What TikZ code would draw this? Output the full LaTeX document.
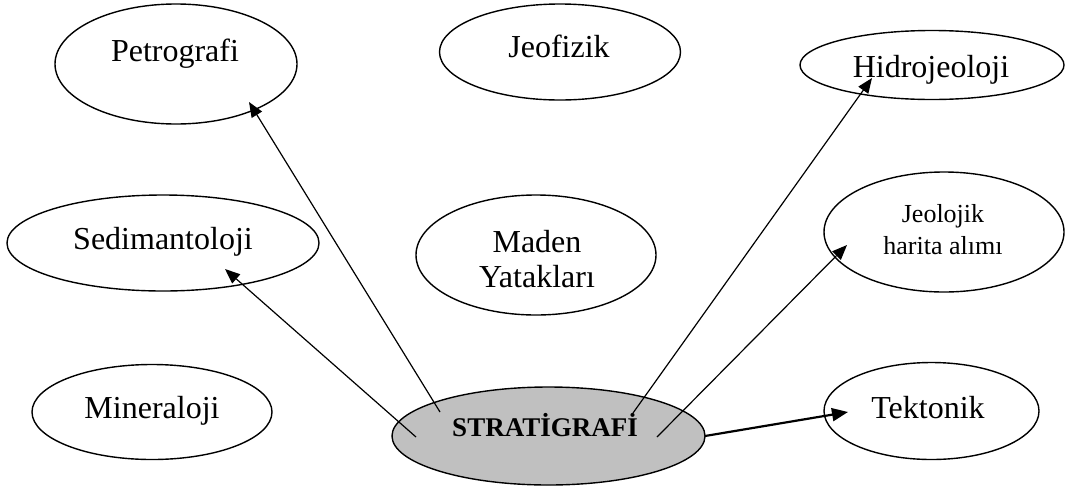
\documentclass[tikz,border=0pt]{standalone}
\usepackage{fontspec}
\setmainfont{Liberation Serif}
\usetikzlibrary{arrows.meta,shapes.geometric}
\definecolor{stratgray}{RGB}{192,192,192}
\begin{document}
\begin{tikzpicture}[x=1pt,y=-1pt,
  ell/.style={draw, ellipse, line width=1.4pt, inner sep=0pt},
  lbl/.style={inner sep=0pt, anchor=base, font=\fontsize{32}{35}\selectfont, align=center},
  smalllbl/.style={inner sep=0pt, anchor=base, font=\fontsize{26}{32}\selectfont, align=center},
  conn/.style={line width=1.2pt, -{Triangle[length=15pt,width=12pt]}},
  thickconn/.style={line width=2.2pt, -{Triangle[length=16pt,width=13pt]}}]
\useasboundingbox (0,0) rectangle (1065,488);
% ellipses
\node[ell, minimum width=242pt, minimum height=120pt] (petro) at (176,64) {};
\node[ell, minimum width=241pt, minimum height=96pt] (jeof) at (560,52) {};
\node[ell, minimum width=264pt, minimum height=69pt] (hidro) at (932,65) {};
\node[ell, minimum width=312pt, minimum height=96pt] (sedim) at (163,243) {};
\node[ell, minimum width=240pt, minimum height=120pt] (maden) at (536,255) {};
\node[ell, minimum width=240pt, minimum height=120pt] (jeol) at (944,232) {};
\node[ell, minimum width=240pt, minimum height=95pt] (miner) at (152,412) {};
\node[ell, fill=stratgray, minimum width=313pt, minimum height=98pt] (strat) at (548.5,436) {};
\node[ell, minimum width=215pt, minimum height=97pt] (tekt) at (931.5,411) {};
% texts
\node[lbl] (tpetro) at (175,61) {Petrografi};
\node[lbl] (tjeof) at (559,57) {Jeofizik};
\node[lbl] (thidro) at (931,77) {Hidrojeoloji};
\node[lbl] (tsedim) at (163,249) {Sedimantoloji};
\node[lbl] (tmaden) at (537,287) {Maden\\Yatakları};
\node[smalllbl] (tjeol) at (943,254) {Jeolojik\\harita alımı};
\node[lbl] (tminer) at (152,418) {Mineraloji};
\node[lbl] (ttekt) at (928,418) {Tektonik};
\node[inner sep=0pt, anchor=base, font=\bfseries\fontsize{27}{30}\selectfont] (tstrat) at (545,436) {STRATİGRAFİ};
% connector ends
\coordinate (s1) at (440,412);
\coordinate (e1) at (249,102);
\coordinate (s2) at (416,437);
\coordinate (e2) at (225,269);
\coordinate (s3) at (633,413);
\coordinate (e3) at (872,78);
\coordinate (s4) at (657,437);
\coordinate (e4) at (847,245);
\coordinate (s5) at (705,436);
\coordinate (e5) at (848,412);
\draw[conn] (s1) -- (e1);
\draw[conn] (s2) -- (e2);
\draw[conn] (s3) -- (e3);
\draw[conn] (s4) -- (e4);
\draw[thickconn] (s5) -- (e5);
\end{tikzpicture}
\end{document}
